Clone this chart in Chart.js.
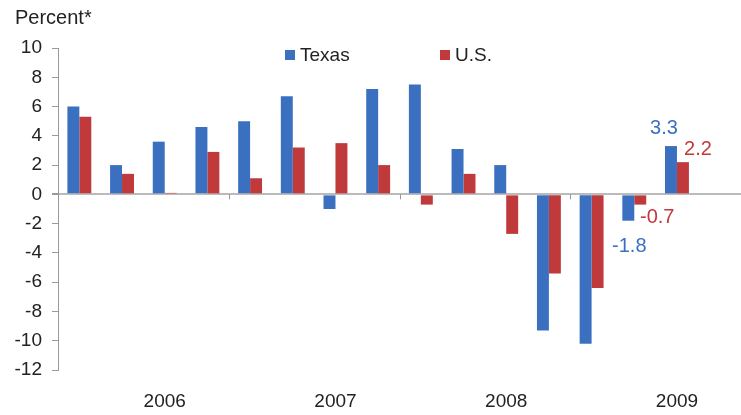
<!DOCTYPE html>
<html>
<head>
<meta charset="utf-8">
<script src="https://cdn.jsdelivr.net/npm/chart.js@4/dist/chart.umd.min.js"></script>
<style>
html,body{margin:0;padding:0;background:#fff;}
#wrap{width:741px;height:415px;position:relative;}
</style>
</head>
<body>
<div id="wrap"><canvas id="c"></canvas></div>
<script>
// ---- data ----
const quarters = ['2006Q1','2006Q2','2006Q3','2006Q4','2007Q1','2007Q2','2007Q3','2007Q4',
                  '2008Q1','2008Q2','2008Q3','2008Q4','2009Q1','2009Q2','2009Q3','2009Q4'];
const xTickLabels = ['','','2006','','','','2007','','','','2008','','','','2009',''];
const texas = [6.0, 2.0, 3.6, 4.6, 5.0, 6.7, -1.0, 7.2, 7.5, 3.1, 2.0, -9.3, -10.2, -1.8, 3.3, null];
const us    = [5.3, 1.4, 0.1, 2.9, 1.1, 3.2, 3.5, 2.0, -0.7, 1.4, -2.7, -5.4, -6.4, -0.7, 2.2, null];
const yTicks = [10, 8, 6, 4, 2, 0, -2, -4, -6, -8, -10, -12];
const labeledTexas = [13, 14];
const labeledUS = [13, 14];
const yearBoundaries = [3.5, 7.5, 11.5];
const yTitle = 'Percent*';

// ---- styles ----
const BLUE = '#3b70c0';
const RED = '#c0393b';
const TXT = '#222';
const FONT = '"Liberation Sans", Arial, sans-serif';

const labelOffsets = {
  t13: {dx: 1, dy: 26}, t14: {dx: -7, dy: -18},
  u13: {dx: 17, dy: 13}, u14: {dx: 15, dy: -13}
};

const extras = {
  id: 'extras',
  afterDatasetsDraw(chart) {
    const ctx = chart.ctx;
    const x = chart.scales.x, y = chart.scales.y;
    const y0 = y.getPixelForValue(0);
    ctx.save();
    // year boundary ticks on zero line
    ctx.strokeStyle = '#999';
    ctx.lineWidth = 1;
    yearBoundaries.forEach(b => {
      const px = Math.round((x.getPixelForValue(Math.floor(b)) + x.getPixelForValue(Math.ceil(b))) / 2) + 0.5;
      ctx.beginPath(); ctx.moveTo(px, y0); ctx.lineTo(px, y0 + 5); ctx.stroke();
    });
    // title
    ctx.fillStyle = TXT;
    ctx.font = '20px ' + FONT;
    ctx.textAlign = 'left'; ctx.textBaseline = 'middle';
    ctx.fillText(yTitle, 15, 18);
    // legend
    ctx.font = '19px ' + FONT;
    ctx.fillStyle = BLUE; ctx.fillRect(285, 50, 10, 10);
    ctx.fillStyle = TXT; ctx.fillText(chart.data.datasets[0].label, 300, 56);
    ctx.fillStyle = RED; ctx.fillRect(440, 50, 10, 10);
    ctx.fillStyle = TXT; ctx.fillText(chart.data.datasets[1].label, 455, 56);
    // data labels
    ctx.font = '20px ' + FONT;
    ctx.textAlign = 'center';
    const m0 = chart.getDatasetMeta(0), m1 = chart.getDatasetMeta(1);
    labeledTexas.forEach(i => {
      const el = m0.data[i], o = labelOffsets['t' + i];
      ctx.fillStyle = BLUE;
      ctx.fillText(texas[i].toFixed(1), el.x + o.dx, el.y + o.dy);
    });
    labeledUS.forEach(i => {
      const el = m1.data[i], o = labelOffsets['u' + i];
      ctx.fillStyle = RED;
      ctx.fillText(us[i].toFixed(1), el.x + o.dx, el.y + o.dy);
    });
    ctx.restore();
  }
};

new Chart(document.getElementById('c'), {
  type: 'bar',
  data: {
    labels: quarters,
    datasets: [
      {label: 'Texas', data: texas, backgroundColor: BLUE, categoryPercentage: 0.56, barPercentage: 1.0},
      {label: 'U.S.', data: us, backgroundColor: RED, categoryPercentage: 0.56, barPercentage: 1.0}
    ]
  },
  options: {
    responsive: true,
    maintainAspectRatio: false,
    animation: false,
    layout: {padding: {top: 48, left: 0, right: 0, bottom: 0}},
    plugins: {legend: {display: false}, tooltip: {enabled: false}, title: {display: false}},
    scales: {
      x: {
        grid: {display: false},
        border: {display: false},
        afterFit(s) { s.height = 45; },
        ticks: {
          autoSkip: false, maxRotation: 0, padding: 12,
          color: TXT, font: {family: FONT, size: 19},
          callback: (v, i) => xTickLabels[i]
        }
      },
      y: {
        min: -12, max: 10,
        afterFit(s) { s.width = 58; },
        afterBuildTicks(s) { s.ticks = yTicks.map(v => ({value: v})); },
        border: {display: true, color: '#999', width: 1},
        grid: {
          drawOnChartArea: true, drawTicks: true, tickLength: 6,
          tickColor: '#999',
          color: c => (c.tick && c.tick.value === 0) ? '#bbb' : 'rgba(0,0,0,0)',
          lineWidth: c => (c.tick && c.tick.value === 0) ? 2 : 1
        },
        ticks: {padding: 10, color: TXT, font: {family: FONT, size: 19}}
      }
    }
  },
  plugins: [extras]
});
</script>
</body>
</html>
